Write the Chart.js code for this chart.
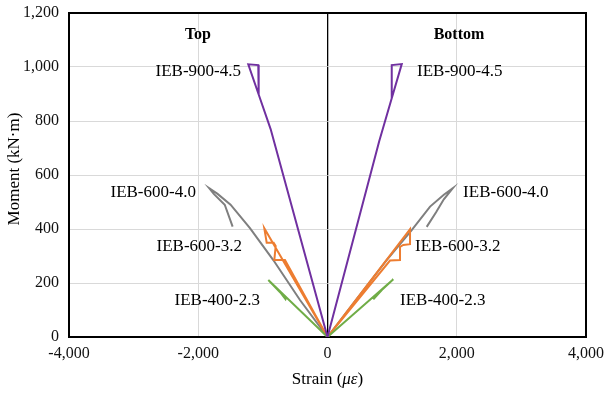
<!DOCTYPE html>
<html>
<head>
<meta charset="utf-8">
<script src="https://cdn.jsdelivr.net/npm/chart.js@4/dist/chart.umd.min.js"></script>
<style>
    body { margin: 0; background: #fff; }
    #wrap { width: 606px; height: 393px; }
</style>
</head>
<body>
<div id="wrap"><canvas id="strainChart" width="606" height="393"></canvas></div>
<script>
// strain (με) / moment (kN·m) pairs, top and bottom gauges
const ieb900Top = [[0, 0], [-880, 770], [-1065, 898], [-1226, 1010], [-1071, 1007], [-1065, 898]];
const ieb900Bottom = [[0, 0], [800, 725], [994, 884], [1149, 1011], [994, 1007], [994, 884]];

const ieb600_40Top = [[0, 0], [-426, 137], [-839, 285], [-1200, 403], [-1500, 490], [-1701, 530], [-1830, 551], [-1760, 530], [-1590, 490], [-1468, 409]];
const ieb600_40Bottom = [[0, 0], [400, 125], [916, 285], [1303, 396], [1587, 483], [1800, 527], [1938, 551], [1800, 510], [1680, 462], [1535, 408]];

const ieb600_32Top = [[0, 0], [-978, 403], [-941, 349], [-833, 349], [-802, 337], [-823, 285], [-658, 285], [0, 0]];
const ieb600_32Bottom = [[0, 0], [1277, 399], [1277, 344], [1173, 341], [1122, 334], [1122, 285], [967, 283], [0, 0]];

const ieb400Top = [[0, 0], [-916, 211], [-730, 165], [-650, 140], [-640, 147]];
const ieb400Bottom = [[0, 0], [1019, 214], [840, 174], [709, 140], [735, 150]];

const xTicks = [-4000, -2000, 0, 2000, 4000];
const yTicks = [0, 200, 400, 600, 800, 1000, 1200];

// curve labels: [text, strain, moment, align]
const curveLabels = [
    ["IEB-900-4.5", -1339, 989, "right"],
    ["IEB-900-4.5", 1385, 989, "left"],
    ["IEB-600-4.0", -2036, 541, "right"],
    ["IEB-600-4.0", 2098, 541, "left"],
    ["IEB-600-3.2", -1323, 344, "right"],
    ["IEB-600-3.2", 1354, 344, "left"],
    ["IEB-400-2.3", -1045, 144, "right"],
    ["IEB-400-2.3", 1122, 144, "left"]
];
const sideLabels = [["Top", -2005, 1126], ["Bottom", 2035, 1126]];

const SERIF = "'Liberation Serif', 'Times New Roman', serif";
const PURPLE = "#7030a0", GRAY = "#7f7f7f", ORANGE = "#ed7d31", GREEN = "#70ad47";

const toPts = arr => arr.map(p => ({ x: p[0], y: p[1] }));
const line = (data, color) => ({
    data: toPts(data),
    borderColor: color,
    borderWidth: 2,
    pointRadius: 0,
    showLine: true,
    tension: 0,
    fill: false
});

const frame = {
    id: "frame",
    beforeDatasetsDraw(chart) {
        const { ctx, chartArea: a } = chart;
        ctx.save();
        ctx.strokeStyle = "#000";
        ctx.lineWidth = 2;
        ctx.strokeRect(a.left, a.top, a.right - a.left, a.bottom - a.top);
        ctx.restore();
    }
};

const texts = {
    id: "texts",
    afterDraw(chart) {
        const { ctx, chartArea: a } = chart;
        const xs = chart.scales.x, ys = chart.scales.y;
        ctx.save();
        ctx.fillStyle = "#000";
        ctx.textBaseline = "middle";

        // +2 so the cap height sits centred on the anchor
        ctx.font = "17px " + SERIF;
        curveLabels.forEach(([t, sx, sy, al]) => {
            ctx.textAlign = al;
            ctx.fillText(t, xs.getPixelForValue(sx), ys.getPixelForValue(sy) + 2);
        });

        ctx.font = "bold 16px " + SERIF;
        ctx.textAlign = "center";
        sideLabels.forEach(([t, sx, sy]) => {
            ctx.fillText(t, xs.getPixelForValue(sx), ys.getPixelForValue(sy) + 2);
        });

        // y title
        ctx.font = "17px " + SERIF;
        ctx.save();
        ctx.translate(15, 169);
        ctx.rotate(-Math.PI / 2);
        ctx.textAlign = "center";
        ctx.fillText("Moment (kN\u00b7m)", 0, 0);
        ctx.restore();

        // x title with italic symbols
        const parts = [["Strain (", "17px " + SERIF], ["\u03bc\u03b5", "italic 17px " + SERIF], [")", "17px " + SERIF]];
        let w = 0;
        parts.forEach(([t, f]) => { ctx.font = f; w += ctx.measureText(t).width; });
        let x = (a.left + a.right) / 2 - w / 2;
        ctx.textAlign = "left";
        parts.forEach(([t, f]) => {
            ctx.font = f;
            ctx.fillText(t, x, 380);
            x += ctx.measureText(t).width;
        });
        ctx.restore();
    }
};

new Chart(document.getElementById("strainChart"), {
    type: "scatter",
    data: {
        datasets: [
            line(ieb900Top, PURPLE),
            line(ieb900Bottom, PURPLE),
            line(ieb400Top, GREEN),
            line(ieb400Bottom, GREEN),
            line(ieb600_32Top, ORANGE),
            line(ieb600_32Bottom, ORANGE),
            line(ieb600_40Top, GRAY),
            line(ieb600_40Bottom, GRAY)
        ]
    },
    options: {
        responsive: false,
        animation: false,
        layout: { padding: { left: 0, top: 13, right: 20, bottom: 0 } },
        plugins: {
            legend: { display: false },
            tooltip: { enabled: false }
        },
        scales: {
            x: {
                type: "linear",
                min: -4000,
                max: 4000,
                afterBuildTicks: s => { s.ticks = xTicks.map(v => ({ value: v })); },
                afterFit: s => {
                    s.height = 56;
                    s.paddingLeft = 0;
                    s.paddingRight = 0;
                },
                ticks: {
                    color: "#111",
                    font: { family: SERIF, size: 16 },
                    padding: 7,
                    maxRotation: 0,
                    callback: v => v.toLocaleString("en-US")
                },
                grid: {
                    drawTicks: false,
                    color: c => c.tick && c.tick.value === 0 ? "#000" : "#d9d9d9",
                    lineWidth: c => c.tick && c.tick.value === 0 ? 1.3 : 1
                },
                border: { display: false }
            },
            y: {
                min: 0,
                max: 1200,
                afterBuildTicks: s => { s.ticks = yTicks.map(v => ({ value: v })); },
                afterFit: s => {
                    s.width = 69;
                    s.paddingTop = 0;
                    s.paddingBottom = 0;
                },
                ticks: {
                    color: "#111",
                    font: { family: SERIF, size: 16 },
                    padding: 10,
                    callback: v => v.toLocaleString("en-US")
                },
                grid: { drawTicks: false, color: "#d9d9d9" },
                border: { display: false }
            }
        }
    },
    plugins: [frame, texts]
});
</script>
</body>
</html>
